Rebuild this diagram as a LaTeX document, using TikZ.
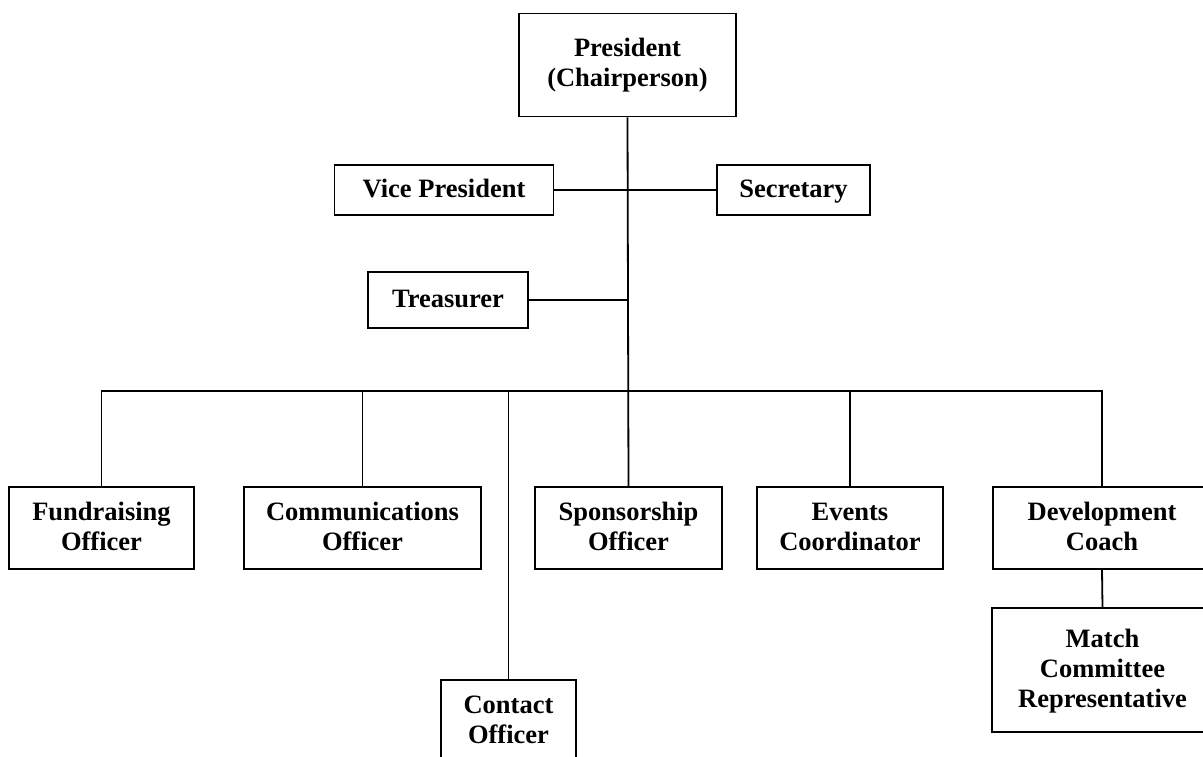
\documentclass[tikz,border=0pt]{standalone}
\usepackage{fontspec}
\setmainfont{Liberation Serif}
\usetikzlibrary{positioning}

% strut that keeps all text on the same baselines
\newcommand\bs{\rule[-6pt]{0pt}{26pt}}

\begin{document}
\begin{tikzpicture}[
      x=1pt, y=-1pt,
      box/.style={rectangle, draw, line width=1.8pt, inner sep=0pt, align=center,
                  font=\fontsize{26.5}{30}\selectfont\bfseries},
      link/.style={line width=1.8pt}
    ]

    \useasboundingbox (0, 0) rectangle (1203, 757);

    % Top of the chart
    \node[box, minimum width=217, minimum height=103] (pres) at (627.5, 65) {\bs President\\(Chairperson)\bs};
    \node[box, minimum width=219, minimum height=50] (vp) at (444, 190) {\bs Vice President};
    \node[box, minimum width=153, minimum height=50] (sec) at (793.5, 190) {\bs Secretary};
    \node[box, minimum width=160, minimum height=56] (treas) at (448, 300) {\bs Treasurer};

    % Officer row
    \node[box, minimum width=185, minimum height=82] (fund) at (101.5, 528) {\bs Fundraising\\Officer\bs};
    \node[box, minimum width=237, minimum height=82] (comm) at (362.5, 528) {\bs Communications\\Officer\bs};
    \node[box, minimum width=187, minimum height=82] (spon) at (628.5, 528) {\bs Sponsorship\\Officer\bs};
    \node[box, minimum width=186, minimum height=82] (evts) at (850, 528) {\bs Events\\Coordinator\bs};
    \node[box, minimum width=218, minimum height=82] (dev) at (1102, 528) {\bs Development\\Coach\bs};

    % Lower boxes
    \node[box, minimum width=135, minimum height=82] (cont) at (508.5, 721) {\bs Contact\\Officer\bs};
    \node[box, minimum width=221, minimum height=124] (match) at (1102.5, 670) {\bs Match\\Committee\\Representative\bs};

    % Junctions on the trunk
    \coordinate (tjoin) at (627.5, 300);
    \coordinate (bus) at (627.5, 391);

    % Draw connectors
    \draw[link] (pres.south) -- (spon.north);
    \draw[link] (vp.east) -- (sec.west);
    \draw[link] (treas.east) -- (tjoin);
    \draw[link] (fund.north) |- (bus) -| (dev.north);
    \draw[link] (comm.north |- bus) -- (comm.north);
    \draw[link] (cont.north |- bus) -- (cont.north);
    \draw[link] (evts.north |- bus) -- (evts.north);
    \draw[link] (dev.south) -- (match.north);

  \end{tikzpicture}
\end{document}
